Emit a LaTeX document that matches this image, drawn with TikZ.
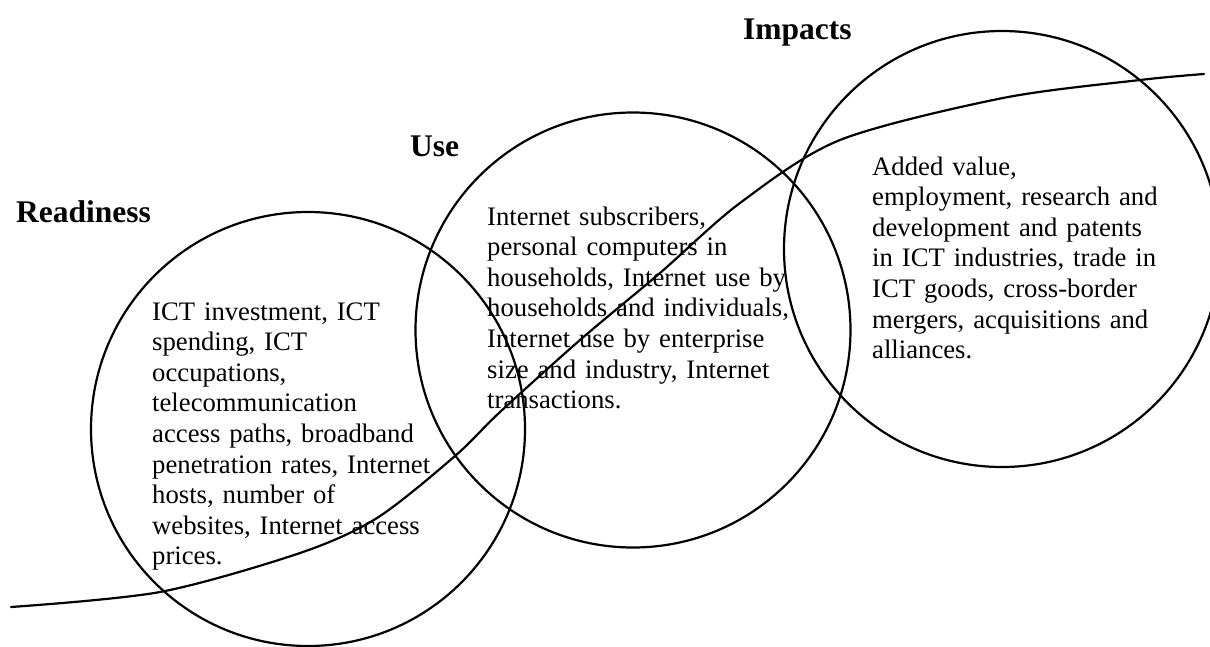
\documentclass[tikz,border=0pt]{standalone}
\usepackage{fontspec}
\setmainfont{Liberation Serif}
\begin{document}
\begin{tikzpicture}[x=1pt,y=-1pt,
  ring/.style={draw=black, line width=2.2pt, circle, inner sep=0pt, minimum size=#1},
  heading/.style={inner sep=0pt, anchor=base west, font=\fontsize{31.5}{36}\selectfont\bfseries},
  bodytext/.style={inner sep=0pt, anchor=base west, text width=420pt, align=left,
                   font=\fontsize{26.7}{30.6}\selectfont},
  trend/.style={draw=black, line width=2.2pt, line cap=round}]
\useasboundingbox (0,0) rectangle (1210,646);

% the three stages
\node[ring=434pt] (readiness) at (308,429) {};
\node[ring=435pt] (use) at (633,330) {};
\node[ring=436pt] (impacts) at (1002,249) {};

% stage headings
\node[heading] (readinesslabel) at (16,222) {Readiness};
\node[heading] (uselabel) at (410,156) {Use};
\node[heading] (impactslabel) at (743,39) {Impacts};

% indicator lists
\node[bodytext] (readinesstext) at (152,320) {ICT investment, ICT\\
spending, ICT\\
occupations,\\
telecommunication\\
access paths, broadband\\
penetration rates, Internet\\
hosts, number of\\
websites, Internet access\\
prices.};

\node[bodytext] (usetext) at (487,225) {Internet subscribers,\\
personal computers in\\
households, Internet use by\\
households and individuals,\\
Internet use by enterprise\\
size and industry, Internet\\
transactions.};

\node[bodytext] (impactstext) at (872,175) {Added value,\\
employment, research and\\
development and patents\\
in ICT industries, trade in\\
ICT goods, cross-border\\
mergers, acquisitions and\\
alliances.};

% maturity curve running through the stages
\draw[trend] plot[smooth, tension=0.5] coordinates {
  (11,607) (160,592) (300,553) (377,518) (455,456) (500,412) (580,340)
  (660,273) (740,203) (840,140) (1003,98) (1140,80) (1204,74)};
\end{tikzpicture}
\end{document}
